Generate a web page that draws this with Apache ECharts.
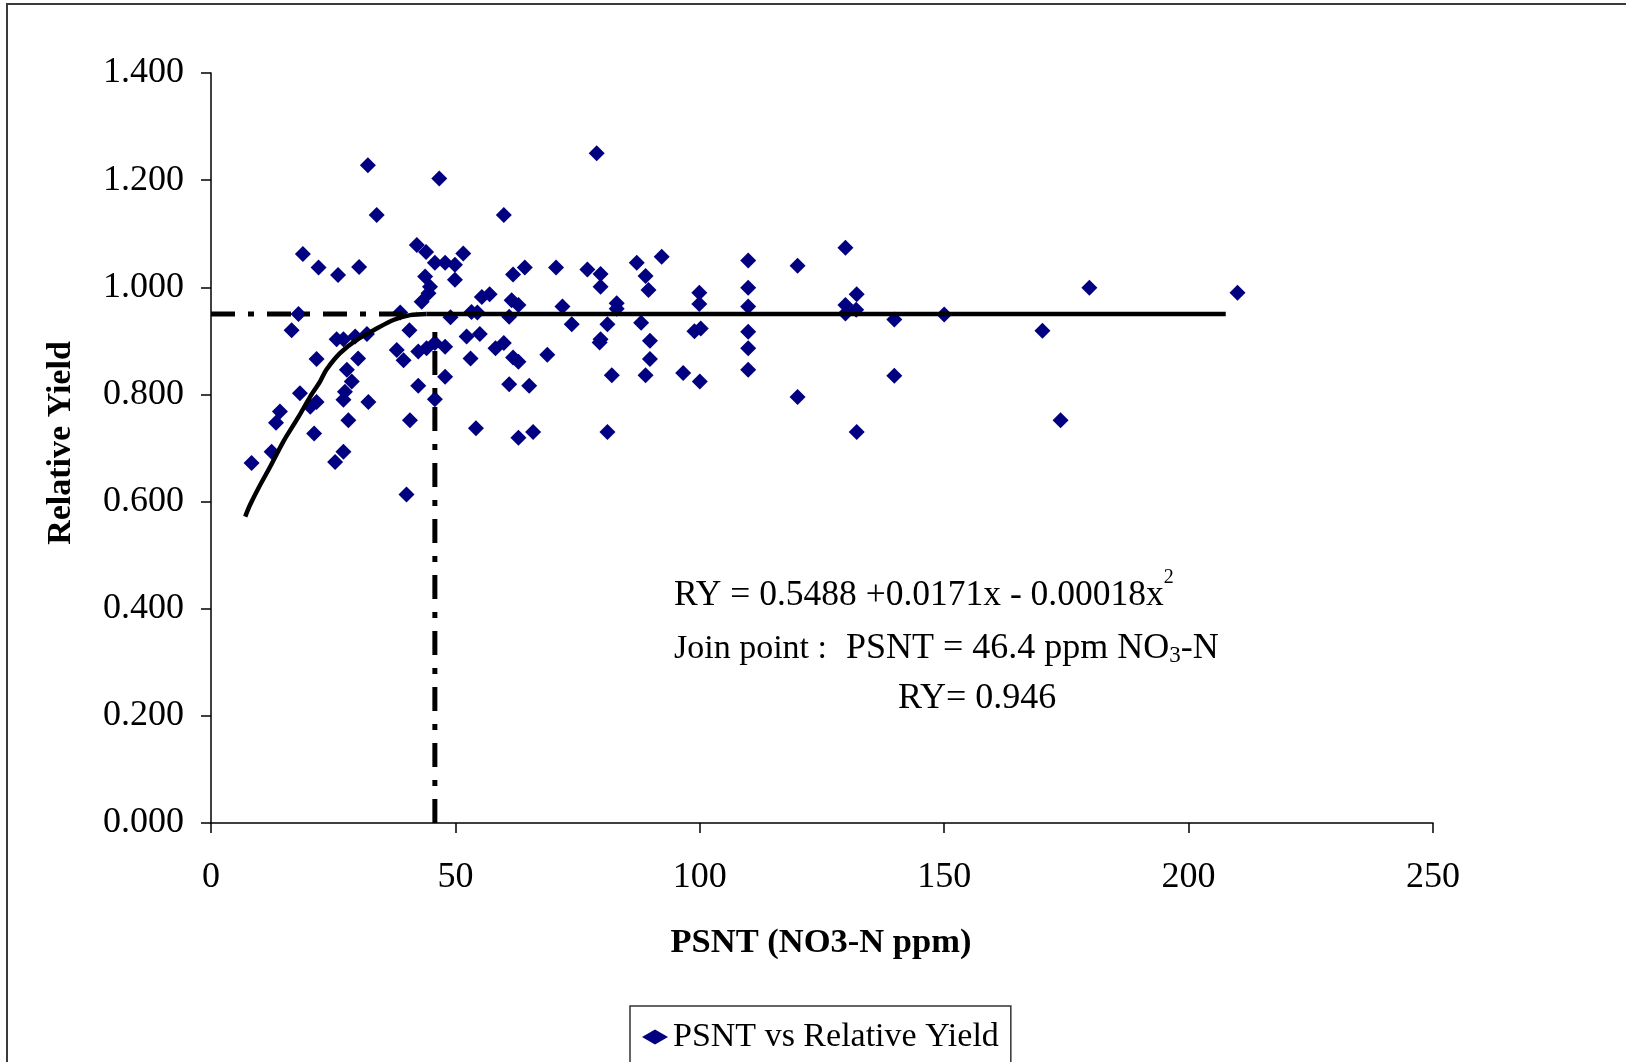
<!DOCTYPE html>
<html><head><meta charset="utf-8">
<script src="https://cdn.jsdelivr.net/npm/echarts@6/dist/echarts.min.js"></script>
<style>html,body{margin:0;padding:0;background:#fff}#c{width:1626px;height:1062px}</style>
</head><body><div id="c"></div>
<script>
// Scatter data: PSNT (NO3-N ppm) and Relative Yield
const psnt = [
 32.1,46.7,33.9,59.9,18.8,22.0,26.0,30.3,42.1,44.0,45.8,47.9,49.9,51.6,49.9,43.8,44.8,44.5,43.1,
 55.4,57.0,38.7,17.9,16.5,40.6,49.0,53.3,54.5,25.7,27.1,29.5,31.9,
 21.6,30.1,27.8,38.0,39.4,42.4,44.1,45.8,47.9,53.1,52.3,55.0,58.2,
 28.8,27.4,27.1,18.2,21.6,20.3,32.2,42.4,47.9,45.8,
 14.1,13.3,28.1,40.7,54.2,21.1,12.4,8.3,27.1,25.4,40.0,
 78.9,64.2,61.8,70.6,77.0,79.7,79.7,87.1,88.9,89.5,92.2,99.9,99.9,109.9,109.9,109.9,120.0,
 61.5,62.9,71.9,83.0,83.0,61.0,73.8,81.1,88.0,98.9,100.2,109.9,109.9,109.9,
 59.9,79.7,79.5,89.8,89.8,88.9,61.8,62.9,68.8,82.0,96.6,100.0,61.0,65.1,120.0,62.9,65.9,81.1,
 129.8,132.1,129.8,132.0,129.8,139.8,150.0,179.7,210.0,170.1,139.8,173.8,132.1
];
const relYield = [
 1.228,1.203,1.135,1.135,1.062,1.037,1.023,1.038,1.079,1.066,1.046,1.046,1.042,1.063,1.014,1.020,1.001,0.989,0.973,
 0.982,0.987,0.953,0.950,0.920,0.920,0.944,0.954,0.953,0.903,0.903,0.908,0.913,
 0.866,0.867,0.846,0.883,0.864,0.880,0.886,0.896,0.889,0.867,0.908,0.913,0.886,
 0.824,0.805,0.790,0.802,0.786,0.777,0.786,0.816,0.833,0.791,
 0.768,0.747,0.752,0.752,0.737,0.727,0.693,0.672,0.693,0.674,0.613,
 1.250,1.037,1.024,1.037,1.033,1.025,1.001,1.046,1.021,0.995,1.057,0.990,0.969,1.050,0.999,0.964,1.040,
 0.976,0.967,0.964,0.970,0.960,0.945,0.931,0.931,0.934,0.918,0.923,0.917,0.886,0.846,
 0.896,0.903,0.897,0.900,0.866,0.836,0.869,0.861,0.874,0.836,0.840,0.824,0.819,0.816,0.795,0.719,0.730,0.730,
 1.074,0.987,0.967,0.958,0.951,0.940,0.949,0.999,0.990,0.919,0.835,0.752,0.730
];
// Fitted quadratic-plateau curve
const curveX = [7.0, 8.0, 9.7, 12.1, 14.8, 17.9, 20.3, 22.3, 23.6, 26.4, 29.8, 33.9, 37.3, 40.7, 44.1];
const curveY = [0.572, 0.594, 0.625, 0.665, 0.712, 0.758, 0.796, 0.824, 0.846, 0.877, 0.902, 0.923, 0.939, 0.948, 0.950];
const plateauX = [44.1, 207.6];
const plateauY = 0.950;
const joinX = 45.8;
const joinDashTop = 0.925;
const hDashX = [0, 42];
const xTicks = [0, 50, 100, 150, 200, 250];
const yTicks = [0, 0.2, 0.4, 0.6, 0.8, 1.0, 1.2, 1.4];

const FONT = '"Liberation Serif", "Times New Roman", serif';
const chart = echarts.init(document.getElementById('c'), null, {renderer: 'canvas'});
const scatterData = psnt.map((x, i) => [x, relYield[i]]);
const curveData = curveX.map((x, i) => [x, curveY[i]]);
const dashPattern = [24, 13, 6, 13];

chart.setOption({
  animation: false,
  backgroundColor: '#fff',
  grid: {left: 211, top: 73, right: 1626 - 1433, bottom: 1062 - 823, containLabel: false},
  xAxis: {
    type: 'value', min: xTicks[0], max: xTicks[xTicks.length - 1], interval: 50,
    axisLine: {show: true, onZero: false, lineStyle: {color: '#000', width: 1.5}},
    axisTick: {show: true, inside: false, length: 10, lineStyle: {color: '#000', width: 1.5}},
    axisLabel: {color: '#000', fontFamily: FONT, fontSize: 36, margin: 37},
    splitLine: {show: false}
  },
  yAxis: {
    type: 'value', min: yTicks[0], max: yTicks[yTicks.length - 1], interval: 0.2,
    axisLine: {show: true, onZero: false, lineStyle: {color: '#000', width: 1.5}},
    axisTick: {show: true, inside: false, length: 10, lineStyle: {color: '#000', width: 1.5}},
    axisLabel: {color: '#000', fontFamily: FONT, fontSize: 36, margin: 27, formatter: v => v.toFixed(3)},
    splitLine: {show: false}
  },
  legend: {
    data: ['PSNT vs Relative Yield'],
    left: 630, top: 1006,
    padding: [14, 12, 40, 12],
    borderColor: '#333', borderWidth: 1.5,
    itemWidth: 26, itemHeight: 15,
    icon: 'diamond',
    itemStyle: {color: '#000080', opacity: 1},
    textStyle: {color: '#000', fontFamily: FONT, fontSize: 34, padding: [0, 0, 28, 0]}
  },
  series: [
    {
      name: 'PSNT vs Relative Yield', type: 'scatter', data: scatterData,
      symbol: 'diamond', symbolSize: 16,
      itemStyle: {color: '#000080', opacity: 1}, z: 2
    },
    {
      name: 'curve', type: 'line', data: curveData, smooth: 0.3, showSymbol: false,
      lineStyle: {color: '#000', width: 4.5}, z: 4
    },
    {
      name: 'plateau', type: 'line', data: plateauX.map(x => [x, plateauY]), showSymbol: false,
      lineStyle: {color: '#000', width: 4.5}, z: 4
    },
    {
      name: 'hdash', type: 'line', data: hDashX.map(x => [x, plateauY]), showSymbol: false,
      lineStyle: {color: '#000', width: 5, type: dashPattern}, z: 3
    },
    {
      name: 'vdash', type: 'line', data: [[joinX, 0], [joinX, joinDashTop]], showSymbol: false,
      lineStyle: {color: '#000', width: 5, type: dashPattern}, z: 3
    }
  ],
  graphic: [
    {type: 'rect', shape: {x: 7, y: 4, width: 1700, height: 1200},
     style: {fill: 'none', stroke: '#3a3a3a', lineWidth: 2}, silent: true},
    {type: 'text', x: 61, y: 443, rotation: Math.PI / 2,
     style: {text: 'Relative Yield', font: 'bold 34px ' + FONT, fill: '#000', align: 'center', verticalAlign: 'middle'}},
    {type: 'text', x: 821, y: 943,
     style: {text: 'PSNT (NO3-N ppm)', font: 'bold 34.5px ' + FONT, fill: '#000', align: 'center', verticalAlign: 'middle'}},
    {type: 'text', x: 674, y: 596,
     style: {text: '{a|RY = 0.5488 +0.0171x - 0.00018x}{s|2}', align: 'left', verticalAlign: 'middle',
       rich: {a: {fontFamily: FONT, fontSize: 35.5, lineHeight: 56, fill: '#000'},
              s: {fontFamily: FONT, fontSize: 20, lineHeight: 20, verticalAlign: 'top', fill: '#000'}}}},
    {type: 'text', x: 674, y: 649,
     style: {text: 'Join point :', font: '34px ' + FONT, fill: '#000', align: 'left', verticalAlign: 'middle'}},
    {type: 'text', x: 846, y: 649,
     style: {text: '{a|PSNT = 46.4 ppm NO}{s|3}{a|-N}', align: 'left', verticalAlign: 'middle',
       rich: {a: {fontFamily: FONT, fontSize: 36, lineHeight: 36, fill: '#000'},
              s: {fontFamily: FONT, fontSize: 23, lineHeight: 23, verticalAlign: 'bottom', fill: '#000'}}}},
    {type: 'text', x: 898, y: 699,
     style: {text: 'RY= 0.946', font: '36px ' + FONT, fill: '#000', align: 'left', verticalAlign: 'middle'}}
  ]
});
</script></body></html>
